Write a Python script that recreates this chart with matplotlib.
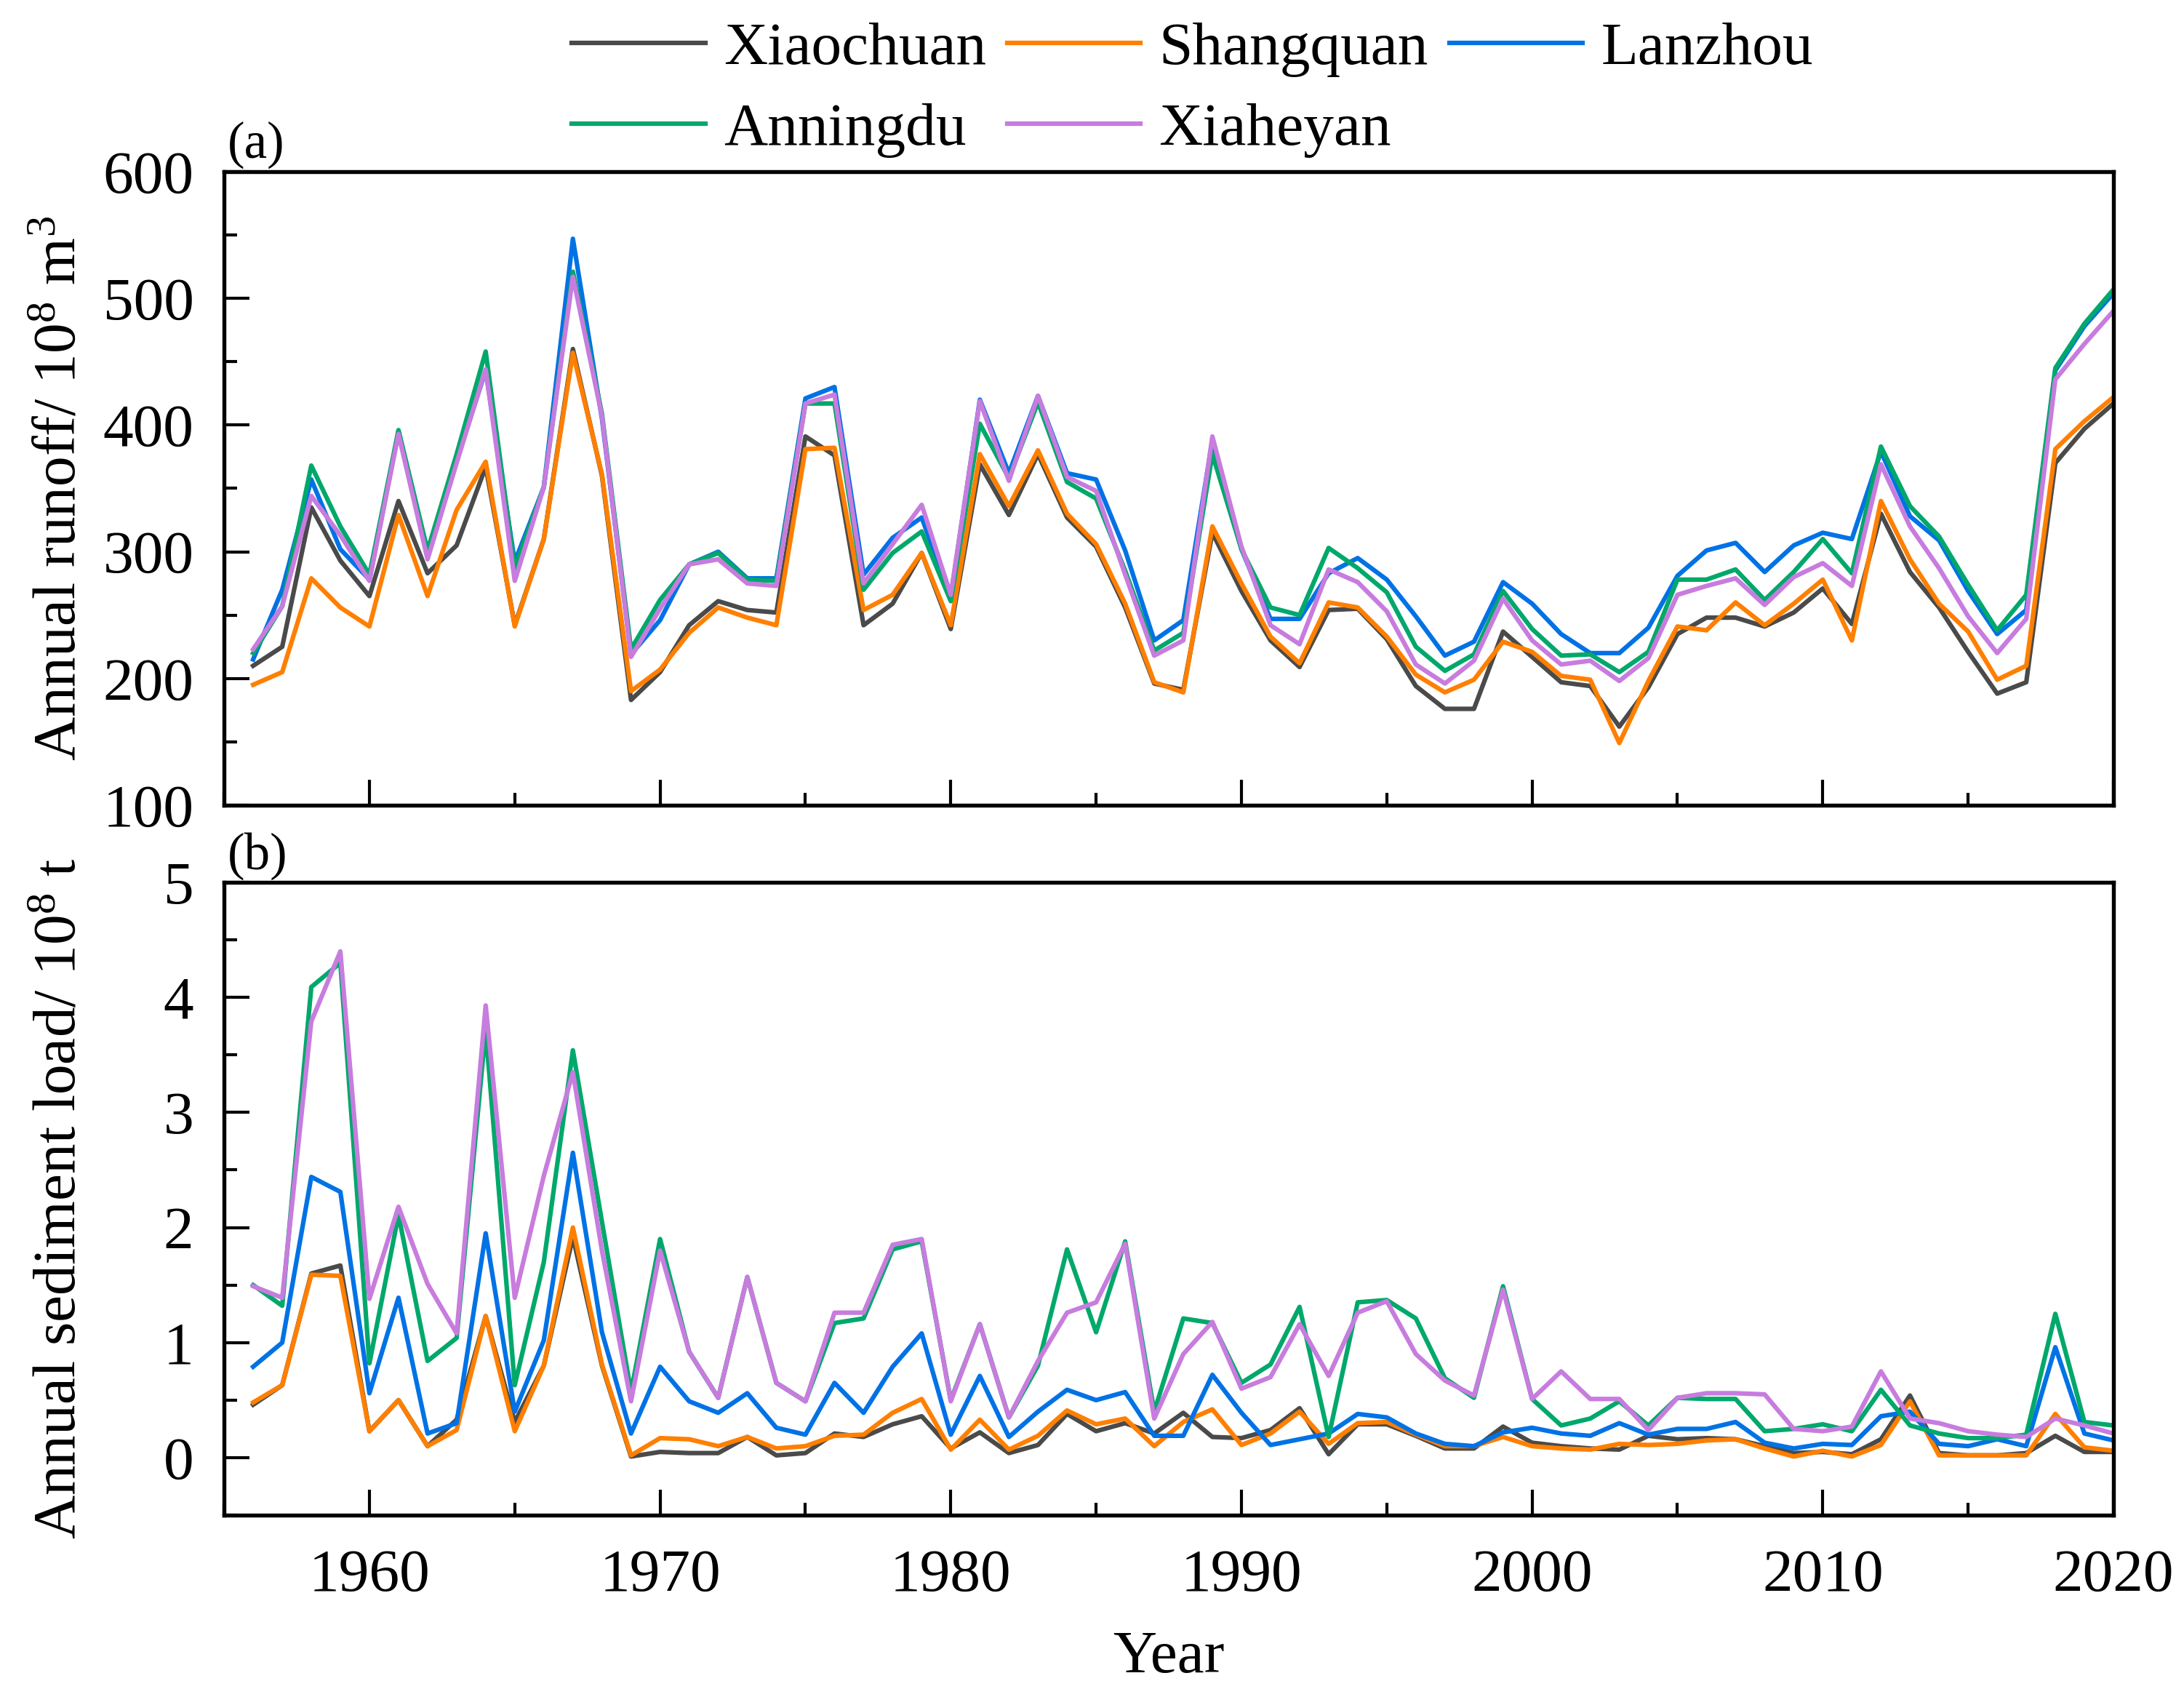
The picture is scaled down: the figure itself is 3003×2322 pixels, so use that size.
import matplotlib

matplotlib.use("Agg")
import matplotlib.pyplot as plt
import numpy as np
from matplotlib.ticker import MultipleLocator

plt.rcParams["font.family"] = ["Liberation Serif", "DejaVu Serif"]
plt.rcParams["mathtext.fontset"] = "custom"
plt.rcParams["mathtext.rm"] = "Liberation Serif"
plt.rcParams["mathtext.it"] = "Liberation Serif:italic"

years = np.arange(1956, 2021)

stations = ["Xiaochuan", "Shangquan", "Lanzhou", "Anningdu", "Xiaheyan"]
colors = ["#4a4a4a", "#ff7f00", "#0072e5", "#00a86b", "#c77cde"]

# annual runoff, 10^8 m^3
runoff_xiaochuan = [210, 225, 335, 293, 265, 340, 283, 305, 367, 242, 310, 460, 360, 183, 205,
                    242, 261, 254, 252, 391, 376, 242, 259, 299, 239, 369, 329, 377, 327, 304,
                    256, 196, 191, 315, 269, 230, 209, 254, 255, 231, 194, 176, 176, 237, 217,
                    197, 194, 162, 193, 235, 248, 248, 241, 252, 271, 243, 330, 284, 256, 221,
                    188, 197, 370, 397, 417]
runoff_shangquan = [195, 205, 279, 256, 241, 329, 265, 333, 371, 241, 310, 457, 361, 190, 207,
                    236, 256, 248, 242, 381, 382, 254, 266, 299, 242, 377, 336, 380, 330, 306,
                    259, 197, 189, 320, 275, 233, 212, 260, 256, 233, 203, 189, 199, 229, 221,
                    202, 199, 149, 198, 241, 238, 260, 242, 259, 278, 230, 340, 294, 259, 237,
                    199, 210, 381, 403, 422]
runoff_lanzhou = [215, 270, 357, 302, 278, 395, 299, 372, 443, 292, 351, 547, 405, 219, 246,
                  290, 300, 279, 279, 421, 430, 282, 311, 327, 264, 420, 362, 423, 362, 357,
                  301, 230, 246, 388, 302, 247, 247, 283, 295, 278, 249, 218, 229, 276, 259,
                  235, 220, 220, 240, 281, 301, 307, 284, 305, 315, 310, 379, 328, 309, 269,
                  235, 254, 443, 478, 504]
runoff_anningdu = [220, 257, 368, 320, 282, 396, 301, 377, 458, 287, 351, 521, 409, 223, 262,
                   290, 299, 278, 277, 417, 417, 270, 299, 316, 261, 401, 358, 418, 355, 342,
                   285, 222, 236, 377, 302, 256, 250, 303, 287, 268, 225, 206, 219, 269, 239,
                   218, 219, 205, 221, 278, 278, 286, 262, 284, 310, 283, 383, 336, 312, 274,
                   238, 266, 445, 480, 507]
runoff_xiaheyan = [223, 257, 344, 313, 277, 393, 294, 370, 444, 277, 351, 517, 407, 217, 255,
                   290, 294, 275, 273, 417, 424, 275, 306, 337, 266, 419, 356, 423, 359, 348,
                   282, 218, 230, 391, 304, 242, 227, 286, 276, 253, 211, 196, 214, 263, 230,
                   211, 214, 198, 216, 266, 273, 279, 258, 280, 291, 273, 369, 320, 287, 249,
                   220, 247, 436, 464, 490]

# annual sediment load, 10^8 t
sed_xiaochuan = [0.46, 0.63, 1.60, 1.67, 0.23, 0.50, 0.10, 0.33, 1.23, 0.31, 0.80, 1.92, 0.80,
                 0.01, 0.05, 0.04, 0.04, 0.18, 0.02, 0.04, 0.21, 0.18, 0.29, 0.36, 0.08, 0.22,
                 0.04, 0.11, 0.38, 0.23, 0.30, 0.21, 0.39, 0.18, 0.17, 0.24, 0.43, 0.03, 0.29,
                 0.29, 0.19, 0.08, 0.08, 0.27, 0.13, 0.10, 0.08, 0.07, 0.19, 0.16, 0.17, 0.16,
                 0.10, 0.04, 0.05, 0.03, 0.16, 0.54, 0.04, 0.02, 0.02, 0.04, 0.19, 0.05, 0.05]
sed_shangquan = [0.48, 0.63, 1.59, 1.58, 0.23, 0.50, 0.10, 0.24, 1.23, 0.23, 0.80, 2.00, 0.81,
                 0.02, 0.17, 0.16, 0.10, 0.18, 0.08, 0.10, 0.19, 0.20, 0.39, 0.51, 0.07, 0.33,
                 0.07, 0.19, 0.41, 0.29, 0.34, 0.10, 0.31, 0.42, 0.11, 0.21, 0.40, 0.12, 0.30,
                 0.31, 0.20, 0.10, 0.10, 0.18, 0.10, 0.08, 0.07, 0.12, 0.11, 0.12, 0.15, 0.16,
                 0.08, 0.01, 0.06, 0.01, 0.11, 0.49, 0.02, 0.02, 0.02, 0.02, 0.38, 0.09, 0.06]
sed_lanzhou = [0.79, 1.00, 2.44, 2.31, 0.56, 1.39, 0.21, 0.30, 1.95, 0.40, 1.02, 2.65, 1.09,
               0.21, 0.79, 0.49, 0.39, 0.56, 0.26, 0.20, 0.65, 0.39, 0.79, 1.08, 0.20, 0.71,
               0.18, 0.40, 0.59, 0.50, 0.57, 0.19, 0.19, 0.72, 0.39, 0.11, 0.16, 0.21, 0.38,
               0.35, 0.21, 0.12, 0.10, 0.22, 0.26, 0.21, 0.19, 0.30, 0.20, 0.25, 0.25, 0.31,
               0.13, 0.08, 0.12, 0.11, 0.36, 0.40, 0.12, 0.10, 0.16, 0.10, 0.96, 0.21, 0.15]
sed_anningdu = [1.50, 1.32, 4.09, 4.30, 0.82, 2.11, 0.84, 1.04, 3.72, 0.63, 1.70, 3.54, 2.05,
                0.57, 1.90, 0.92, 0.52, 1.57, 0.65, 0.49, 1.17, 1.21, 1.81, 1.88, 0.50, 1.16,
                0.35, 0.80, 1.81, 1.09, 1.88, 0.40, 1.21, 1.17, 0.65, 0.81, 1.31, 0.18, 1.35,
                1.37, 1.21, 0.69, 0.52, 1.49, 0.51, 0.28, 0.34, 0.49, 0.28, 0.52, 0.51, 0.51,
                0.23, 0.25, 0.29, 0.23, 0.59, 0.28, 0.21, 0.17, 0.17, 0.20, 1.25, 0.31, 0.28]
sed_xiaheyan = [1.49, 1.39, 3.79, 4.40, 1.38, 2.18, 1.51, 1.08, 3.93, 1.39, 2.45, 3.35, 1.80,
                0.49, 1.80, 0.92, 0.52, 1.57, 0.65, 0.49, 1.26, 1.26, 1.85, 1.90, 0.49, 1.16,
                0.35, 0.84, 1.26, 1.35, 1.86, 0.34, 0.90, 1.18, 0.60, 0.70, 1.16, 0.71, 1.26,
                1.36, 0.90, 0.67, 0.54, 1.46, 0.51, 0.75, 0.51, 0.51, 0.24, 0.52, 0.56, 0.56,
                0.55, 0.25, 0.23, 0.27, 0.75, 0.34, 0.30, 0.23, 0.20, 0.18, 0.34, 0.28, 0.21]

runoff = [runoff_xiaochuan, runoff_shangquan, runoff_lanzhou, runoff_anningdu, runoff_xiaheyan]
sediment = [sed_xiaochuan, sed_shangquan, sed_lanzhou, sed_anningdu, sed_xiaheyan]

FS = 20
LW = 1.5

fig = plt.figure(figsize=(10.01, 7.74), dpi=300)
ax_a = fig.add_axes([0.1026, 0.5233, 0.8651, 0.3751])
ax_b = fig.add_axes([0.1026, 0.1029, 0.8651, 0.3747])

handles = []
for name, color, run, sed in zip(stations, colors, runoff, sediment):
    (line,) = ax_a.plot(years, run, color=color, lw=LW, label=name)
    ax_b.plot(years, sed, color=color, lw=LW)
    handles.append(line)

for ax in (ax_a, ax_b):
    ax.set_xlim(1955, 2020)
    ax.xaxis.set_major_locator(MultipleLocator(10))
    ax.xaxis.set_minor_locator(MultipleLocator(5))
    ax.tick_params(which="both", direction="in", top=False, right=False, width=1.0, labelsize=FS)
    ax.tick_params(which="major", length=8.5)
    ax.tick_params(which="minor", length=4.2)
    ax.tick_params(axis="y", pad=10)
    ax.tick_params(axis="x", pad=11)
    for spine in ax.spines.values():
        spine.set_linewidth(1.3)

ax_a.set_ylim(100, 600)
ax_a.yaxis.set_major_locator(MultipleLocator(100))
ax_a.yaxis.set_minor_locator(MultipleLocator(50))
ax_a.tick_params(axis="x", labelbottom=False)
ax_a.set_ylabel("Annual runoff/ 10$^{8}$ m$^{3}$", fontsize=FS)
ax_a.yaxis.set_label_coords(-0.072, 0.5)
ax_a.text(0.002, 1.004, "(a)", transform=ax_a.transAxes, fontsize=17, ha="left", va="bottom")

ax_b.set_ylim(-0.5, 5)
ax_b.yaxis.set_major_locator(MultipleLocator(1))
ax_b.yaxis.set_minor_locator(MultipleLocator(0.5))
ax_b.set_ylabel("Annual sediment load/ 10$^{8}$ t", fontsize=FS)
ax_b.yaxis.set_label_coords(-0.072, 0.5)
ax_b.set_xlabel("Year", fontsize=FS, labelpad=9)
ax_b.text(0.002, 1.004, "(b)", transform=ax_b.transAxes, fontsize=17, ha="left", va="bottom")

# row-major order for a 3-column legend
order = [0, 3, 1, 4, 2]
fig.legend([handles[i] for i in order], [stations[i] for i in order],
           loc="upper center", bbox_to_anchor=(0.546, 0.998), ncol=3, frameon=False,
           fontsize=FS, handlelength=2.2, handletextpad=0.3, columnspacing=0.35,
           labelspacing=0.42, borderaxespad=0.1, borderpad=0.2)

fig.savefig("out.png", dpi=300)
plt.close(fig)
